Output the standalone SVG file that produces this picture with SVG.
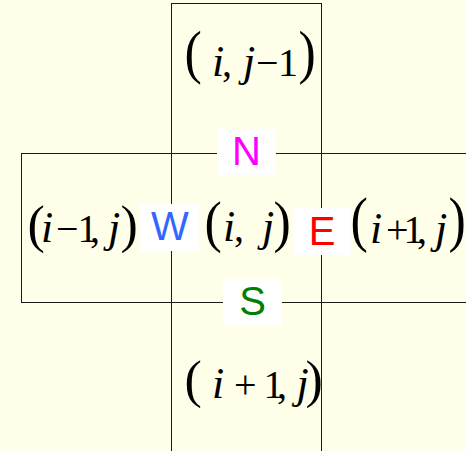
<svg xmlns="http://www.w3.org/2000/svg" width="466" height="451" viewBox="0 0 466 451">
<style>
.cell{fill:none;stroke:#1a1a1a;stroke-width:1}
.m{font-family:"Liberation Serif","Times New Roman",serif;font-size:40px;fill:#000}
.it{font-style:italic;font-size:44px}
.p{font-family:"Liberation Serif","Times New Roman",serif;font-size:52px;fill:#000}
.box{fill:#ffffff}
.d{font-family:"Liberation Sans",Arial,sans-serif;font-size:40px;text-anchor:middle}
</style>
<rect x="0" y="0" width="466" height="451" fill="#ffffe9"/>
<g id="cell-top">
<rect class="cell" x="171.5" y="3.5" width="150" height="150"/>
<text class="p" transform="translate(184.5,72.4) scale(1,1.12)">(</text>
<text class="m" y="76"><tspan class="it" x="212">i</tspan><tspan x="222">,</tspan><tspan class="it" x="243">j</tspan><tspan x="256">−</tspan><tspan x="278">1</tspan></text>
<text class="p" transform="translate(298.5,72.4) scale(1,1.12)">)</text>
</g>
<g id="cell-left">
<rect class="cell" x="21.5" y="153.5" width="150" height="149"/>
<text class="p" transform="translate(27.5,241.5)">(</text>
<text class="m" y="242"><tspan class="it" x="41">i</tspan><tspan x="56">−</tspan><tspan x="77.6">1</tspan><tspan x="90">,</tspan><tspan class="it" x="108">j</tspan></text>
<text class="p" transform="translate(120.5,241.5)">)</text>
</g>
<g id="cell-center">
<rect class="cell" x="171.5" y="153.5" width="150" height="149"/>
<text class="p" transform="translate(204.5,240.6) scale(1,1.1)">(</text>
<text class="m" y="241"><tspan class="it" x="223">i</tspan><tspan x="234">,</tspan><tspan class="it" x="262">j</tspan></text>
<text class="p" transform="translate(273.5,240.6) scale(1,1.1)">)</text>
</g>
<g id="cell-right">
<rect class="cell" x="321.5" y="153.5" width="160" height="149"/>
<text class="p" transform="translate(350.5,240) scale(1,1.16)">(</text>
<text class="m" y="243"><tspan class="it" x="370">i</tspan><tspan x="386">+</tspan><tspan x="403.6">1</tspan><tspan x="417">,</tspan><tspan class="it" x="435">j</tspan></text>
<text class="p" transform="translate(448.5,240) scale(1,1.16)">)</text>
</g>
<g id="cell-bottom">
<rect class="cell" x="171.5" y="302.5" width="150" height="160"/>
<text class="p" transform="translate(184.5,396.8)">(</text>
<text class="m" y="398"><tspan class="it" x="212">i</tspan><tspan x="234">+</tspan><tspan x="263.6">1</tspan><tspan x="277">,</tspan><tspan class="it" x="296.5">j</tspan></text>
<text class="p" transform="translate(305.5,396.8)">)</text>
</g>
<g id="label-N">
<rect class="box" x="217" y="129" width="59" height="46"/>
<text class="d" x="246.5" y="165" fill="#ff00ff">N</text>
</g>
<g id="label-W">
<rect class="box" x="140" y="204" width="59" height="47"/>
<text class="d" x="170" y="240" fill="#3366ff">W</text>
</g>
<g id="label-E">
<rect class="box" x="293" y="208" width="58" height="47"/>
<text class="d" x="322" y="245" fill="#ff0000">E</text>
</g>
<g id="label-S">
<rect class="box" x="223" y="279" width="59" height="46"/>
<text class="d" x="252.5" y="315" fill="#008000">S</text>
</g>
<g id="connectors"></g>
</svg>
